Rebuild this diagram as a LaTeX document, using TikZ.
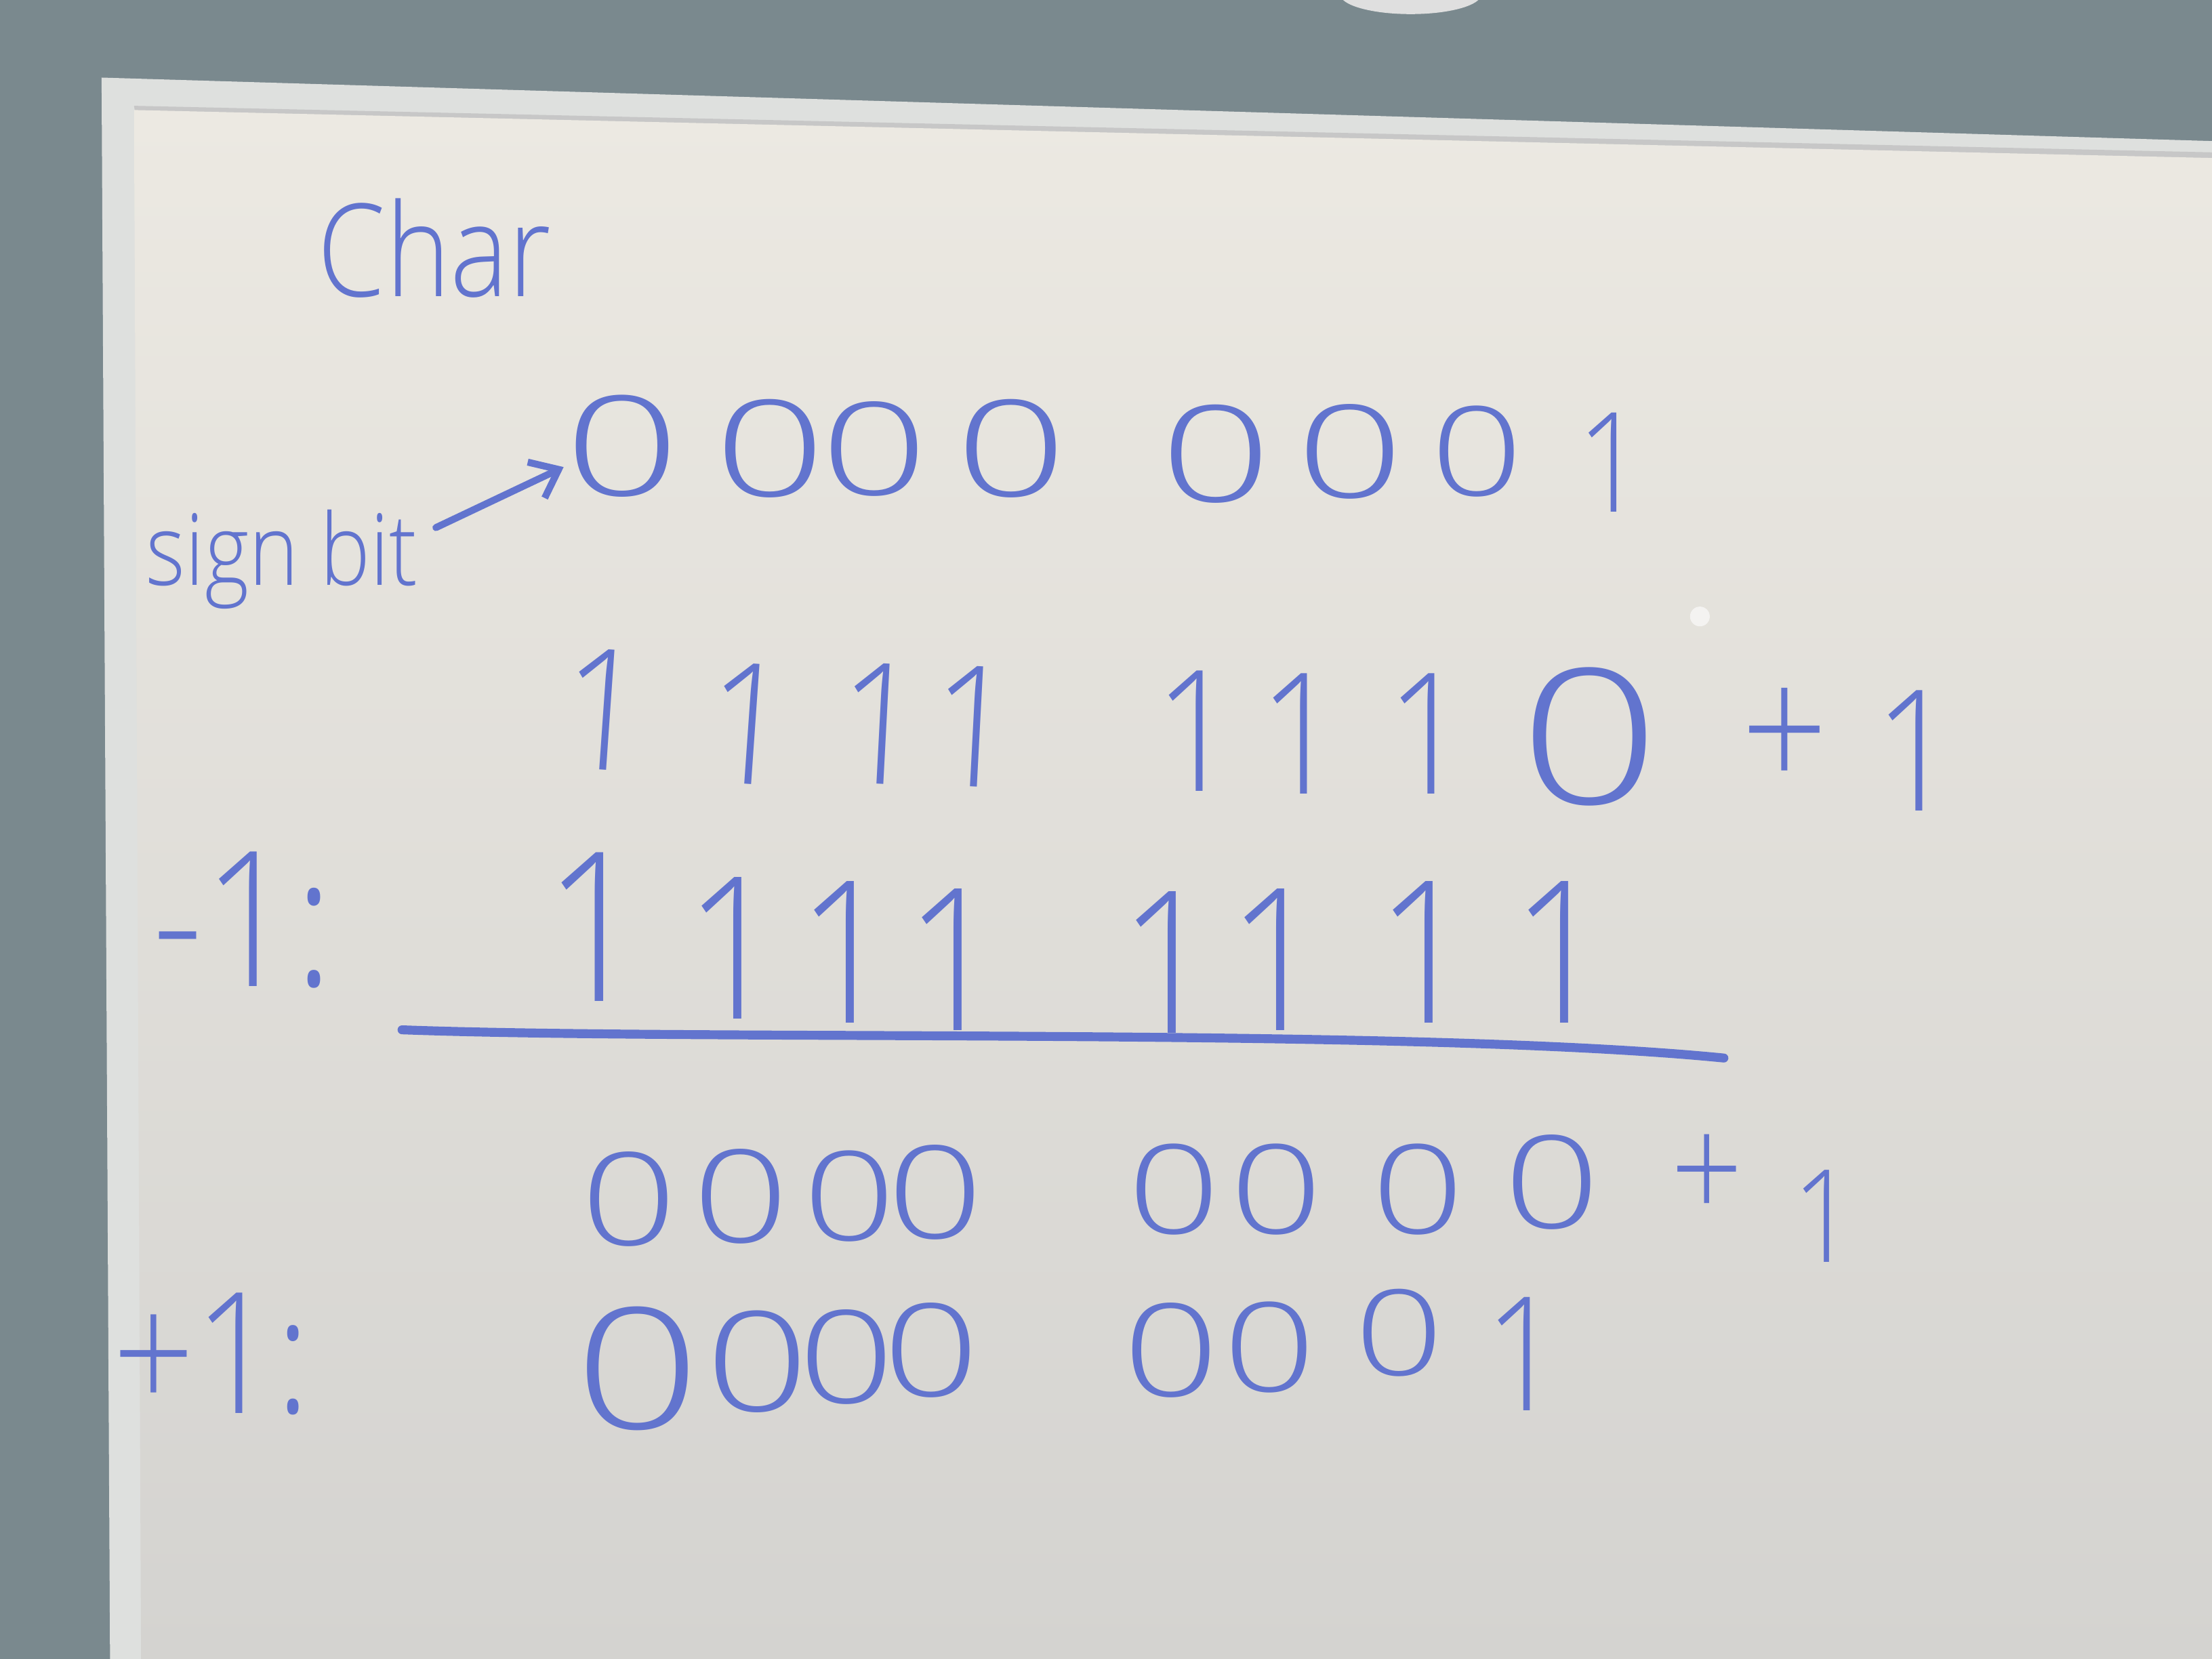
\documentclass[tikz,border=0pt]{standalone}
\usepackage{fontspec}
\newfontfamily\hand[FakeStretch=0.85]{Open Sans Light}
\newfontfamily\handz[FakeStretch=1.3]{Open Sans Light}
\newfontfamily\handzw[FakeStretch=1.45]{Open Sans Light}
\usetikzlibrary{arrows.meta}
\definecolor{ink}{RGB}{98,116,206}
\definecolor{wall}{RGB}{122,137,142}
\definecolor{framec}{RGB}{222,224,222}
\definecolor{boardtop}{RGB}{236,233,226}
\definecolor{boardbot}{RGB}{212,211,208}
\tikzset{
  hw/.style={text=ink, inner sep=0pt, font=\hand\fontsize{#1}{#1}\selectfont},
  zr/.style={text=ink, inner sep=0pt, font=\handz\fontsize{#1}{#1}\selectfont},
  zrw/.style={text=ink, inner sep=0pt, font=\handzw\fontsize{#1}{#1}\selectfont},
  inkline/.style={draw=ink, line width=1.4pt, line cap=round}
}
\begin{document}
\begin{tikzpicture}[x=0.01cm, y=-0.01cm]
\useasboundingbox (0,0) rectangle (1568,1176);
% wall
\fill[wall] (0,0) rectangle (1568,1176);
\fill[gray!25] (1000,-4) ellipse (50 and 14);
% frame
\fill[framec] (72,55) -- (1568,100) -- (1568,1176) -- (78,1176) -- cycle;
\fill[black!22] (95,75) -- (1568,108) -- (1568,114) -- (96,81) -- cycle;
% board
\shade[top color=boardtop, bottom color=boardbot]
  (95,78) -- (1568,112) -- (1568,1176) -- (100,1176) -- cycle;
\fill[white, opacity=0.6] (1205,437) circle (7);

% title and label
\node[hw=26] (char) at (308,176) {Char};
\node[hw=20, anchor=base] (signbit) at (200,415) {sign bit};

% row 1: 0000 0001
\node[zrw=28] (r1a) at (441,316) {0};
\node[zrw=27] (r1b) at (546,318) {0};
\node[zrw=26] (r1c) at (620,318) {0};
\node[zrw=27] (r1d) at (717,318) {0};
\node[zrw=27] (r1e) at (862,322) {0};
\node[zrw=26] (r1f) at (957,320) {0};
\node[zr=25] (r1g) at (1047,320) {0};
\node[hw=28] (r1h) at (1142,328) {1};

\coordinate (sbtail) at (309,374);
\draw[inkline, -{Straight Barb[length=5pt,width=8pt]}] (sbtail) -- (r1a.200);

% row 2: 1111 1110 +1
\node[hw=34, rotate=-4] (r2a) at (428,503) {1};
\node[hw=34, rotate=-4] (r2b) at (531,513) {1};
\node[hw=34, rotate=-3] (r2c) at (624,513) {1};
\node[hw=34, rotate=-3] (r2d) at (690,515) {1};
\node[hw=34] (r2e) at (848,518) {1};
\node[hw=34] (r2f) at (922,520) {1};
\node[hw=34] (r2g) at (1012,520) {1};
\node[zr=38] (r2h) at (1127,522) {0};
\node[hw=36] (r2plus) at (1265,525) {+};
\node[hw=34] (r2one) at (1358,532) {1};

% row 3: -1: 1111 1111
\node[hw=38] (m1) at (172,652) {-1:};
\node[hw=42] (r3a) at (422,657) {1};
\node[hw=40] (r3b) at (520,672) {1};
\node[hw=40] (r3c) at (600,675) {1};
\node[hw=40] (r3d) at (676,680) {1};
\node[hw=40] (r3e) at (828,682) {1};
\node[hw=40] (r3f) at (905,680) {1};
\node[hw=40] (r3g) at (1010,675) {1};
\node[hw=40] (r3h) at (1106,675) {1};

% sum line
\coordinate (lineL) at (285,730);
\coordinate (lineR) at (1222,750);
\draw[inkline, line width=1.8pt] (lineL) .. controls (500,738) and (1000,728) .. (lineR);

% row 4: 0000 0000 +1
\node[zr=26] (r4a) at (446,850) {0};
\node[zr=26] (r4b) at (525,848) {0};
\node[zr=25] (r4c) at (602,848) {0};
\node[zr=26] (r4d) at (663,845) {0};
\node[zr=25] (r4e) at (832,843) {0};
\node[zr=25] (r4f) at (905,843) {0};
\node[zr=25] (r4g) at (1005,843) {0};
\node[zr=26] (r4h) at (1100,838) {0};
\node[hw=30] (r4plus) at (1210,835) {+};
\node[hw=26] (r4one) at (1293,862) {1};

% row 5: +1: 0000 0001
\node[hw=34] (p1) at (150,960) {+1:};
\node[zr=34] (r5a) at (452,970) {0};
\node[zr=28] (r5b) at (537,965) {0};
\node[zr=26] (r5c) at (600,962) {0};
\node[zr=26] (r5d) at (660,957) {0};
\node[zr=26] (r5e) at (830,957) {0};
\node[zr=25] (r5f) at (900,955) {0};
\node[zr=24] (r5g) at (992,945) {0};
\node[hw=32] (r5h) at (1080,960) {1};
\end{tikzpicture}
\end{document}
